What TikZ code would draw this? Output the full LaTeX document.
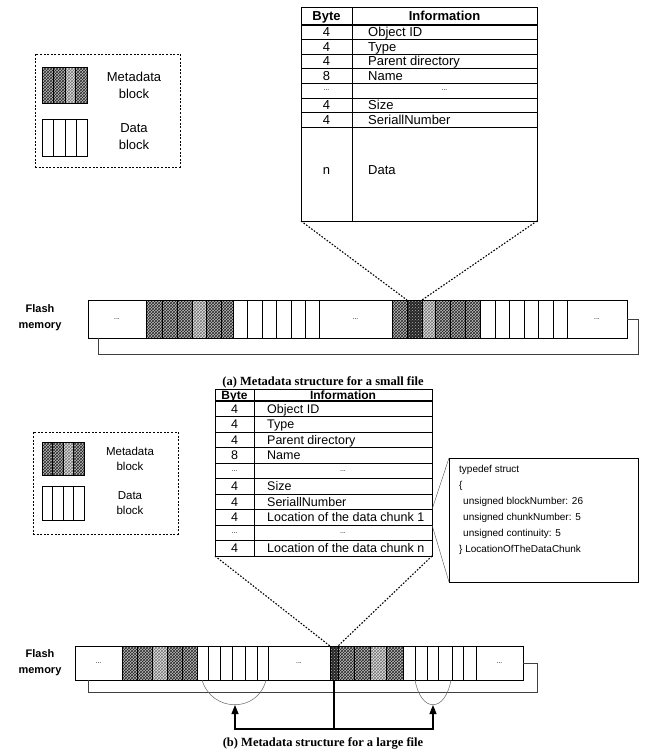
\documentclass[tikz,border=0pt]{standalone}
\usepackage{fontspec}
\setmainfont{Liberation Sans}
\newfontfamily\capfont{Liberation Serif}
\usetikzlibrary{patterns,arrows.meta,fit}
\newcommand\mblock[4]{%
  \fill[gray!50] (#1,#2) rectangle (#3,#4);
  \fill[pattern=crosshatch,pattern color=black!85] (#1,#2) rectangle (#3,#4);
  \draw[line width=0.5pt] (#1,#2) rectangle (#3,#4);}
\newcommand\lblock[4]{%
  \fill[gray!20] (#1,#2) rectangle (#3,#4);
  \fill[pattern=crosshatch,pattern color=black!55] (#1,#2) rectangle (#3,#4);
  \draw[line width=0.5pt] (#1,#2) rectangle (#3,#4);}
\newcommand\kblock[4]{%
  \fill[black!85] (#1,#2) rectangle (#3,#4);
  \fill[pattern=crosshatch dots,pattern color=gray!60] (#1,#2) rectangle (#3,#4);
  \draw[line width=0.5pt] (#1,#2) rectangle (#3,#4);}
\newcommand\dblock[4]{%
  \draw[line width=0.8pt,fill=white] (#1,#2) rectangle (#3,#4);}
\begin{document}
\begin{tikzpicture}[x=1pt,y=-1pt,
  frame/.style={draw,line width=0.9pt,inner sep=0pt,outer sep=0pt},
  ghost/.style={inner sep=0pt,outer sep=0pt},
  gridline/.style={line width=0.6pt},
  headline/.style={line width=2pt},
  dotline/.style={line width=1.1pt,dash pattern=on 1.6pt off 1.6pt},
  legendbox/.style={draw,line width=1pt,dash pattern=on 2pt off 1.6pt,inner sep=0pt},
  looppath/.style={line width=0.5pt,black!75},
  thinlink/.style={line width=0.4pt,black!70},
  arcline/.style={line width=0.5pt,black!60},
  arrowline/.style={line width=1.1pt},
  ttxtA/.style={inner sep=0pt,anchor=base,font=\fontsize{13}{14}\selectfont},
  thdrA/.style={inner sep=0pt,anchor=base,font=\fontsize{13}{14}\selectfont\bfseries},
  ttxtB/.style={inner sep=0pt,anchor=base,font=\fontsize{12.5}{13}\selectfont},
  thdrB/.style={inner sep=0pt,anchor=base,font=\fontsize{12}{13}\selectfont\bfseries},
  dots/.style={inner sep=0pt,font=\fontsize{7}{8}\selectfont},
  flashlbl/.style={inner sep=0pt,align=center,font=\fontsize{11}{16}\selectfont\bfseries},
  legtxtA/.style={inner sep=0pt,align=center,font=\fontsize{13}{17}\selectfont},
  legtxtB/.style={inner sep=0pt,align=center,font=\fontsize{11.5}{14.5}\selectfont},
  capt/.style={inner sep=0pt,font=\capfont\fontsize{12.5}{14}\selectfont\bfseries},
  structtxt/.style={inner sep=0pt,align=left,anchor=north west,font=\fontsize{10}{16}\selectfont}]
\useasboundingbox (0,0) rectangle (646,753);

%================ (a) =================
% legend A
\node[legendbox,fit={(35,54) (180,167)}] (legA) {};
\mblock{42}{67}{53}{103}\mblock{53}{67}{65}{103}\lblock{65}{67}{75}{103}\mblock{75}{67}{87}{103}
\node[ghost,fit={(42,67) (87,103)}] (legAm) {};
\foreach \xa/\xb in {42/53,53/65,65/76,76/87} {\dblock{\xa}{119}{\xb}{156}}
\node[ghost,fit={(42,119) (87,156)}] (legAd) {};
\node[legtxtA] (legAmt) at (134,85) {Metadata\\block};
\node[legtxtA] (legAdt) at (134,137) {Data\\block};

% table A
\node[frame,fit={(301,7) (537,221)}] (tA) {};
\draw[gridline] (352,7) -- (352,221);
\foreach \yy in {39.5,54,68.5,83,98,112.5,127} {\draw[gridline] (301,\yy) -- (537,\yy);}
\draw[headline] (301,25) -- (537,25);
\node[thdrA] (tAh1) at (326.5,20.5) {Byte};
\node[thdrA] (tAh2) at (444.5,20.5) {Information};
\foreach \n/\yy/\b/\t in {1/32.25/4/Object ID,2/46.75/4/Type,3/61.25/4/Parent directory,4/75.75/8/Name,6/105.25/4/Size,7/119.75/4/SeriallNumber,8/170/n/Data} {
  \node[ttxtA] (tAb\n) at (326.5,{\yy+4.6}) {\b};
  \node[ttxtA,anchor=base west] (tAi\n) at (368,{\yy+4.6}) {\t};
}
\node[dots] (tAb5) at (326.5,90.5) {...};
\node[dots] (tAi5) at (444.5,90.5) {...};

% flash strip A
\node[flashlbl] (flA) at (40,318) {Flash\\memory};
\node[frame,fill=white,fit={(88,300) (627,338)}] (stripA) {};
\node[dots] (dA1) at (117,319) {...};
\mblock{146}{300}{162}{338}\mblock{162}{300}{177}{338}\mblock{177}{300}{192}{338}
\lblock{192}{300}{206}{338}\mblock{206}{300}{221}{338}\mblock{221}{300}{233}{338}
\foreach \xa/\xb in {233/247,247/262,262/276,276/291,291/305,305/319} {\dblock{\xa}{300}{\xb}{338}}
\node[dots] (dA2) at (355.5,319) {...};
\mblock{392}{300}{407}{338}
\kblock{407}{300}{422}{338}
\node[ghost,fit={(407,300) (422,338)}] (darkA) {};
\lblock{422}{300}{435}{338}\mblock{435}{300}{450}{338}\mblock{450}{300}{465}{338}\mblock{465}{300}{480}{338}
\foreach \xa/\xb in {480/495,495/509,509/524,524/538,538/553,553/567} {\dblock{\xa}{300}{\xb}{338}}
\node[dots] (dA3) at (597,319) {...};
\draw[line width=0.9pt] (stripA.south west) rectangle (stripA.north east);
\coordinate (loopAl) at (98,338);
\coordinate (loopAb) at (98,354);
\draw[looppath] (stripA.east) -- ++(11,0) |- (loopAb) -- (loopAl);
\draw[dotline] (tA.south west) -- (darkA.north west);
\draw[dotline] (tA.south east) -- (darkA.north east);

\node[capt] (capA) at (323,382) {(a) Metadata structure for a small file};

%================ (b) =================
% legend B
\node[legendbox,fit={(33,432) (178,534)}] (legB) {};
\mblock{42}{442}{52}{475}\mblock{52}{442}{63}{475}\lblock{63}{442}{73}{475}\mblock{73}{442}{84}{475}
\node[ghost,fit={(42,442) (84,475)}] (legBm) {};
\foreach \xa/\xb in {42/52,52/63,63/73,73/84} {\dblock{\xa}{486}{\xb}{520}}
\node[ghost,fit={(42,486) (84,520)}] (legBd) {};
\node[legtxtB] (legBmt) at (130,459) {Metadata\\block};
\node[legtxtB] (legBdt) at (130,503) {Data\\block};

% table B
\node[frame,fit={(215,389) (432,556)}] (tB) {};
\draw[gridline] (254,389) -- (254,556);
\foreach \k in {1,...,9} {\draw[gridline] (215,{401+\k*15.5}) -- (432,{401+\k*15.5});}
\draw[headline] (215,401) -- (432,401);
\node[thdrB] (tBh1) at (234.5,399) {Byte};
\node[thdrB] (tBh2) at (343,399) {Information};
\foreach \n/\b/\t in {1/4/Object ID,2/4/Type,3/4/Parent directory,4/8/Name,6/4/Size,7/4/SeriallNumber,8/4/Location of the data chunk 1,10/4/Location of the data chunk n} {
  \node[ttxtB] (tBb\n) at (234.5,{401+(\n-0.5)*15.5+4.5}) {\b};
  \node[ttxtB,anchor=base west] (tBi\n) at (267,{401+(\n-0.5)*15.5+4.5}) {\t};
}
\foreach \n in {5,9} {
  \node[dots] (tBb\n) at (234.5,{401+(\n-0.5)*15.5}) {...};
  \node[dots] (tBi\n) at (343,{401+(\n-0.5)*15.5}) {...};
}
\coordinate (loc1top) at (432,{401+7*15.5});
\coordinate (loc1bot) at (432,{401+8*15.5});

% struct box
\node[frame,fit={(449,458) (638,582)}] (structbox) {};
\node[structtxt] (structtext) at (459,465) {typedef struct\\{\{}\\\hspace*{4pt}unsigned blockNumber: 26\\\hspace*{4pt}unsigned chunkNumber: 5\\\hspace*{4pt}unsigned continuity: 5\\\} LocationOfTheDataChunk};
\draw[thinlink] (loc1top) -- (structbox.north west);
\draw[thinlink] (loc1bot) -- (structbox.south west);

% flash strip B
\node[flashlbl] (flB) at (40,663) {Flash\\memory};
\node[frame,fill=white,fit={(75,646) (523,680)}] (stripB) {};
\node[dots] (dB1) at (98.5,663) {...};
\mblock{122}{646}{137}{680}\mblock{137}{646}{152}{680}\lblock{152}{646}{167}{680}\mblock{167}{646}{182}{680}\mblock{182}{646}{197}{680}
\foreach \xa/\xb in {197/208,208/220,220/232,232/245,245/257,257/268} {\dblock{\xa}{646}{\xb}{680}}
\node[dots] (dB2) at (299,663) {...};
\kblock{330}{646}{338}{680}
\node[ghost,fit={(330,646) (338,680)}] (darkB) {};
\mblock{338}{646}{354}{680}\mblock{354}{646}{370}{680}\lblock{370}{646}{386}{680}\mblock{386}{646}{403}{680}
\foreach \xa/\xb in {403/415,415/427,427/438,438/452,452/463,463/476} {\dblock{\xa}{646}{\xb}{680}}
\node[dots] (dB3) at (499.5,663) {...};
\draw[line width=0.9pt] (stripB.south west) rectangle (stripB.north east);
\coordinate (loopBl) at (88,680);
\coordinate (loopBb) at (88,692);
\draw[looppath] (stripB.east) -- ++(14,0) |- (loopBb) -- (loopBl);
\draw[dotline] (tB.south west) -- (darkB.north west);
\draw[dotline] (tB.south east) -- (darkB.north east);

% arcs and arrows
\coordinate (arcL) at (235,705);
\coordinate (arcR) at (433,705);
\draw[arcline] (202,680) .. controls (212,713) and (258,713) .. (266,680);
\draw[arcline] (415,680) .. controls (421,713) and (445,713) .. (451,680);
\coordinate (junc) at (darkB.south |- 0,729);
\draw[arrowline] (darkB.south) -- (junc);
\draw[arrowline,-{Triangle[length=9pt,width=7pt]}] (junc) -| (arcL);
\draw[arrowline,-{Triangle[length=9pt,width=7pt]}] (junc) -| (arcR);

\node[capt] (capB) at (323,743) {(b) Metadata structure for a large file};
\end{tikzpicture}
\end{document}
